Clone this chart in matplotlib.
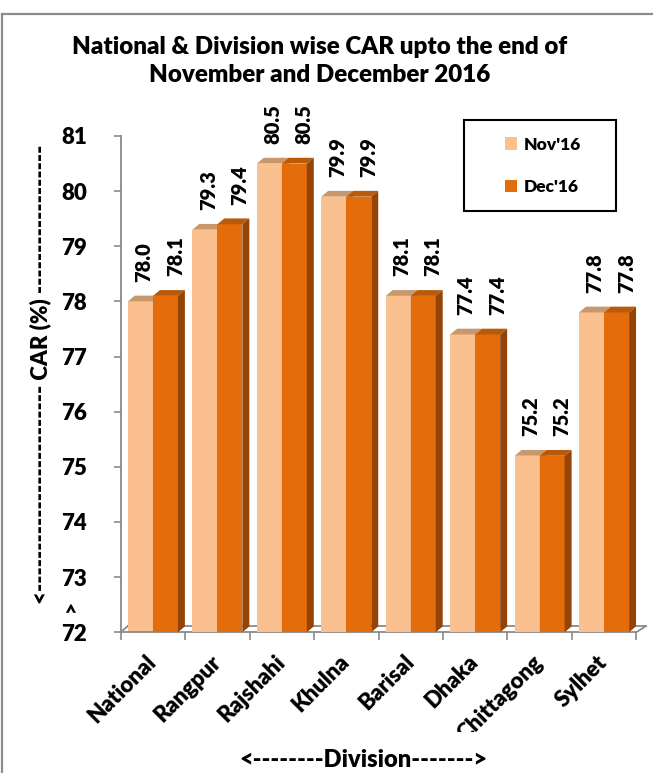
import matplotlib
matplotlib.use("Agg")
import matplotlib.pyplot as plt
from matplotlib.patches import Polygon, Rectangle, Patch
from matplotlib.lines import Line2D
from matplotlib.transforms import Bbox, TransformedBbox

# ---------------- data ----------------
categories = ["National", "Rangpur", "Rajshahi", "Khulna", "Barisal", "Dhaka", "Chittagong", "Sylhet"]
nov_values = [78.0, 79.3, 80.5, 79.9, 78.1, 77.4, 75.2, 77.8]
dec_values = [78.1, 79.4, 80.5, 79.9, 78.1, 77.4, 75.2, 77.8]
series_names = ["Nov'16", "Dec'16"]
yticks = [72, 73, 74, 75, 76, 77, 78, 79, 80, 81]

# ---------------- style ----------------
FONT = "Lato"
WT = "heavy"
plt.rcParams["font.family"] = [FONT, "DejaVu Sans"]
plt.rcParams["font.weight"] = WT

W, H = 653, 773
fig = plt.figure(figsize=(W / 100, H / 100), dpi=100)
fig.patch.set_facecolor("white")

def fx(px):
    return px / W

def fy(py):
    return 1 - py / H

ax_left, ax_right, ax_top, ax_bot = 120.7, 636.3, 136.0, 632.2
ax = fig.add_axes([fx(ax_left), fy(ax_bot), fx(ax_right) - fx(ax_left), (ax_bot - ax_top) / H])
ax.set_xlim(-0.5, len(categories) - 0.5)
ax.set_ylim(72, 81)
ax.patch.set_alpha(0)

nov_front, nov_top, nov_side = "#FAC090", "#C9976C", "#C9976C"
dec_front, dec_top, dec_side = "#E46C0A", "#B95A0B", "#934406"
gray = "#8A8A8A"

bw = 0.388          # bar width (category units)
bdx, bdy = 0.108, 0.105   # bar depth offsets
fdx, fdy = 0.15, 0.112    # floor depth offsets

# floor
floor_kw = dict(color=gray, lw=1.3, clip_on=False, zorder=1)
ax.plot([-0.5 + fdx * 0.75, len(categories) - 0.5 + fdx], [72 + fdy, 72 + fdy], **floor_kw)
ax.plot([-0.5, -0.5 + fdx * 0.75], [72, 72 + fdy], **floor_kw)
ax.plot([len(categories) - 0.5, len(categories) - 0.5 + fdx], [72, 72 + fdy], **floor_kw)

def bar3d(xc, v, front, top, side, z):
    x0, x1 = xc - bw / 2, xc + bw / 2
    ax.add_patch(Rectangle((x0, 72), bw, v - 72, facecolor=front, edgecolor="none", zorder=z, clip_on=False))
    ax.add_patch(Polygon([(x0, v), (x1, v), (x1 + bdx, v + bdy), (x0 + bdx, v + bdy)],
                         closed=True, facecolor=top, edgecolor="none", zorder=z, clip_on=False))
    ax.add_patch(Polygon([(x1, 72), (x1 + bdx, 72 + bdy), (x1 + bdx, v + bdy), (x1, v)],
                         closed=True, facecolor=side, edgecolor="none", zorder=z, clip_on=False))

label_kw = dict(rotation=90, ha="center", va="bottom", fontsize=14.5, fontweight=WT,
                textcoords="offset points", annotation_clip=False, color="black")
for i, (n, d) in enumerate(zip(nov_values, dec_values)):
    xn = i - bw / 2
    xd = i + bw / 2
    bar3d(xn, n, nov_front, nov_top, nov_side, 2 + i * 2)
    bar3d(xd, d, dec_front, dec_top, dec_side, 3 + i * 2)
    ax.annotate(f"{n:.1f}", xy=(xn + bdx / 2, n + bdy), xytext=(0, 10), **label_kw)
    ax.annotate(f"{d:.1f}", xy=(xd + bdx / 2 + 0.1, d + bdy), xytext=(0, 10), **label_kw)

# axes styling
for s in ["top", "right"]:
    ax.spines[s].set_visible(False)
for s in ["left", "bottom"]:
    ax.spines[s].set_color(gray)
    ax.spines[s].set_linewidth(1.3)
ax.set_yticks(yticks)
ax.set_yticklabels([str(t) for t in yticks], fontsize=16, fontweight=WT)
ax.tick_params(axis="y", direction="out", length=5, width=1.2, color=gray, pad=19)

ax.set_xticks(range(len(categories)))
ax.set_xticklabels([])
ax.set_xticks([i - 0.5 for i in range(len(categories) + 1)], minor=True)
ax.tick_params(axis="x", which="major", length=0)
ax.tick_params(axis="x", which="minor", direction="out", length=6, width=1.2, color=gray)

clip = TransformedBbox(Bbox([[0, 41 / H], [1, 1]]), fig.transFigure)
for i, c in enumerate(categories):
    t = ax.annotate(c, xy=(i, 72), xytext=(0, -19), textcoords="offset points",
                    rotation=45, rotation_mode="anchor", ha="right", va="center",
                    fontsize=16, fontweight=WT, annotation_clip=False)
    t.set_clip_box(clip)
    t.set_clip_on(True)

# x label
fig.text(fx(363), fy(760), "<" + "-" * 8 + "Division" + "-" * 7 + ">", ha="center", va="center",
         fontsize=17, fontweight=WT)

# y label
fig.text(fx(40), fy(374), "<" + "-" * 25 + " CAR (%) " + "-" * 18, rotation=90,
         ha="center", va="center", fontsize=16, fontweight=WT)
fig.text(fx(70), fy(606), ">", rotation=90, ha="center", va="center", fontsize=15, fontweight=WT)

# title
fig.text(fx(320), fy(61), "National & Division wise CAR upto the end of\nNovember and December 2016",
         ha="center", va="center", fontsize=17.4, fontweight=WT, linespacing=1.3)

# legend
fig.add_artist(Rectangle((fx(464), fy(211)), fx(616) - fx(464), (211 - 120) / H,
                         transform=fig.transFigure, facecolor="white", edgecolor="black", lw=1.5, zorder=20))
handles = [Patch(facecolor=nov_front, edgecolor="none", label=series_names[0]),
           Patch(facecolor=dec_front, edgecolor="none", label=series_names[1])]
leg = fig.legend(handles=handles, loc="center", bbox_to_anchor=(fx(543), fy(166)),
                 bbox_transform=fig.transFigure, frameon=False,
                 prop={"weight": WT, "size": 12.5},
                 handlelength=0.7, handleheight=0.7, handletextpad=0.35, labelspacing=1.55)
leg.set_zorder(21)

# outer frame (partial, like the screenshot)
fig.add_artist(Line2D([fx(2), fx(2)], [0, fy(14)], color="#8C8C8C", lw=1.6, transform=fig.transFigure))
fig.add_artist(Line2D([fx(2), 1], [fy(14), fy(14)], color="#8C8C8C", lw=1.6, transform=fig.transFigure))

fig.savefig("out.png", dpi=100, facecolor="white")
